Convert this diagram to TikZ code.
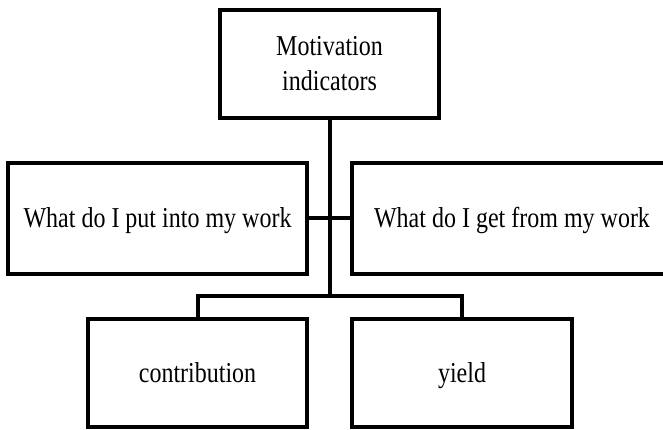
\documentclass[tikz,border=0pt]{standalone}
\usepackage{graphicx}
\usepackage{fontspec}
\setmainfont{Liberation Serif}
\newcommand{\tall}[1]{\scalebox{1}[1.2]{#1}}
\begin{document}
\begin{tikzpicture}[x=1pt,y=-1pt,
  box/.style={draw, line width=4pt, inner sep=0pt, outer sep=0pt, align=center,
              font=\fontsize{24}{35}\selectfont},
  onebox/.style={box, text height=22pt, text depth=4pt},
  conn/.style={line width=4pt}]
\useasboundingbox (0,0) rectangle (663,430);
\clip (0,0) rectangle (663,430);
\node[box, minimum width=219pt, minimum height=108pt] (top) at (329.5,64) {\tall{Motivation}\\\tall{indicators}};
\node[onebox, minimum width=299pt, minimum height=111pt] (left) at (157.5,218.5) {\tall{What do I put into my work}};
\node[onebox, minimum width=320pt, minimum height=111pt] (right) at (512,218.5) {\tall{What do I get from my work}};
\node[onebox, minimum width=219pt, minimum height=108pt] (contrib) at (197.5,373) {\tall{contribution}};
\node[onebox, minimum width=220pt, minimum height=108pt] (yield) at (462,373) {\tall{yield}};
\coordinate (branch) at (329.5,296);
\draw[conn] (top.south) -- (branch);
\draw[conn] (left.east) -- (right.west);
\draw[conn] (contrib.north) |- (branch) -| (yield.north);
\end{tikzpicture}
\end{document}
